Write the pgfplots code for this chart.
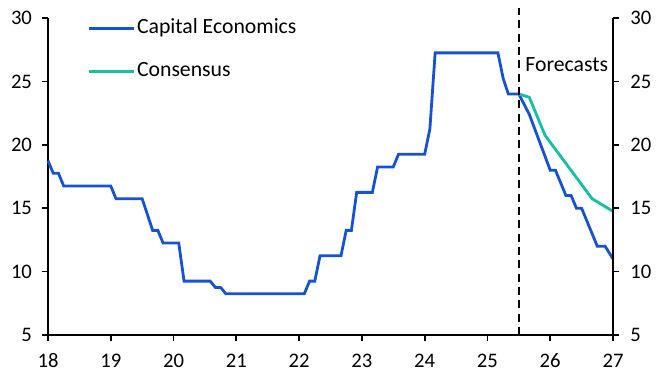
\documentclass[border=0pt]{standalone}
\usepackage{pgfplots}
\pgfplotsset{compat=1.18}
\usepackage{fontspec}
\setmainfont{Carlito}
\definecolor{ceblue}{RGB}{22,82,212}
\definecolor{ceteal}{RGB}{20,192,160}
\newcommand{\cf}{\fontsize{15.5}{18}\selectfont}
\newcommand{\lf}{\fontsize{16.3}{19}\selectfont}
\begin{document}
\begin{tikzpicture}[x=1pt,y=1pt]
\useasboundingbox (-36,-32.25) rectangle (461.25,251.25);
\pgfplotsset{
  myaxis/.style={
    at={(0,0)}, anchor=south west,
    scale only axis, width=423.75pt, height=237.75pt,
    xmin=18, xmax=27, ymin=5, ymax=30,
    xtick={18,19,...,27}, ytick={5,10,...,30},
    axis line style={line width=1.5pt, -},
    tick style={line width=1.3pt, black},
    tick align=outside, major tick length=4.5pt,
    ticklabel style={font=\cf},
    xticklabel style={yshift=-6pt},
    /pgf/number format/assume math mode=true,
    clip=false,
  }
}
\begin{axis}[myaxis,
  axis x line*=bottom, axis y line*=left,
  yticklabel style={xshift=-4pt},
  legend style={at={(0.069,1.003)}, anchor=north west, draw=none, fill=none,
    font=\lf, row sep=15.5pt, inner sep=0pt,
    nodes={inner sep=1.5pt, text height=10.5pt, text depth=3.2pt}},
  legend cell align=left,
  legend image code/.code={\draw[#1] (0pt,0pt) -- (33.75pt,0pt);},
]
\addplot[ceblue, line width=2.1pt] coordinates {
(18.0,18.75) (18.083,17.75) (18.167,17.75) (18.25,16.75) (19.0,16.75)
(19.083,15.75) (19.5,15.75) (19.667,13.25) (19.75,13.25) (19.833,12.25)
(20.083,12.25) (20.167,9.25) (20.583,9.25) (20.667,8.75) (20.75,8.75)
(20.833,8.25) (22.083,8.25) (22.167,9.25) (22.25,9.25) (22.333,11.25)
(22.667,11.25) (22.75,13.25) (22.833,13.25) (22.917,16.25) (23.167,16.25)
(23.25,18.25) (23.5,18.25) (23.583,19.25) (24.0,19.25) (24.083,21.25)
(24.167,27.25) (25.167,27.25) (25.25,25.25) (25.333,24) (25.5,24)
(25.667,22.4) (26.0,18) (26.083,18) (26.25,16) (26.333,16)
(26.417,15) (26.5,15) (26.75,12) (26.875,12) (27.0,11)
};
\addlegendentry{Capital Economics}
\addplot[ceteal, line width=2.1pt] coordinates {
(25.5,24) (25.667,23.75) (25.917,20.75) (26.667,15.75) (27.0,14.75)
};
\addlegendentry{Consensus}
\addplot[black, line width=1.8pt, dash pattern=on 6pt off 4pt, forget plot]
  coordinates {(25.5,5) (25.5,30.8)};
\node[anchor=west, inner sep=0pt, font=\lf] at (axis cs:25.6,26.3) {Forecasts};
\end{axis}
\begin{axis}[myaxis,
  axis y line*=right, axis x line=none,
  yticklabel style={xshift=5pt},
]
\addplot[draw=none, forget plot] coordinates {(18,5) (27,30)};
\end{axis}
\end{tikzpicture}
\end{document}
